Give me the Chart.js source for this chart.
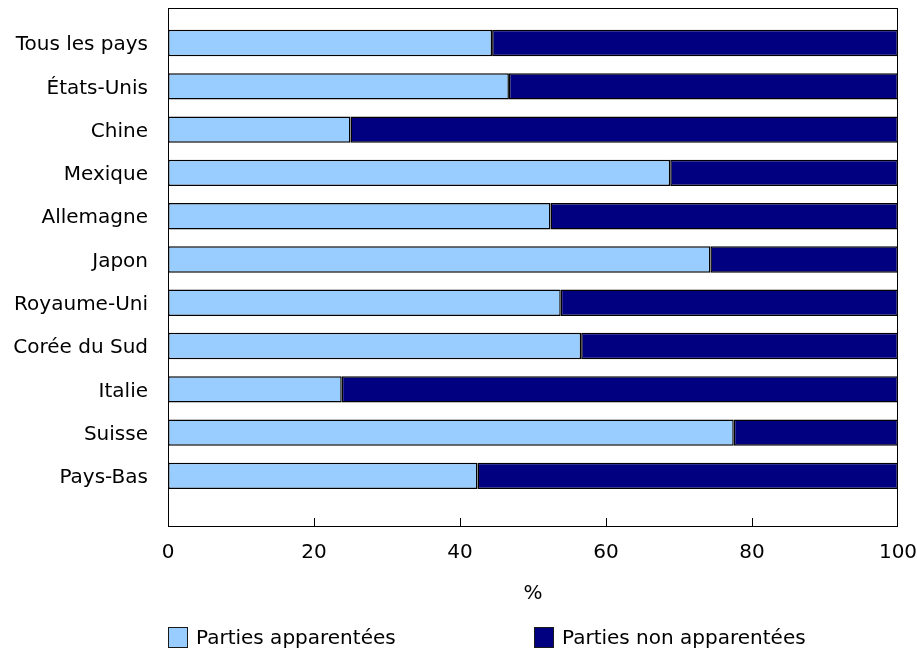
<!DOCTYPE html>
<html><head><meta charset="utf-8">
<script src="https://cdn.jsdelivr.net/npm/chart.js@4/dist/chart.umd.min.js"></script>
<style>
html,body{margin:0;padding:0;background:#fff;}
#wrap{position:relative;width:917px;height:651px;overflow:hidden;}
canvas{display:block;}
.leg{position:absolute;top:626px;height:22px;font-family:"DejaVu Sans",Verdana,sans-serif;font-size:20px;color:#000;display:flex;align-items:center;white-space:nowrap;}
.sw{display:inline-block;width:20px;height:21px;border:1px solid #1a1a1a;margin-right:8px;box-sizing:border-box;}
</style></head>
<body><div id="wrap"><canvas id="c" width="917" height="651"></canvas>
<div class="leg" style="left:168px"><span class="sw" style="background:#99CCFF"></span><span id="l1"></span></div>
<div class="leg" style="left:534px"><span class="sw" style="background:#000080"></span><span id="l2"></span></div>
</div>
<script>
const categories = ['Tous les pays','États-Unis','Chine','Mexique','Allemagne','Japon','Royaume-Uni','Corée du Sud','Italie','Suisse','Pays-Bas'];
const relatedParties = [44.4,46.7,25.0,68.8,52.4,74.3,53.8,56.6,23.8,77.5,42.4];
const unrelatedParties = [55.6,53.3,75.0,31.2,47.6,25.7,46.2,43.4,76.2,22.5,57.6];
const seriesNames = ['Parties apparentées','Parties non apparentées'];
const xTicks = [0,20,40,60,80,100];
const xTitle = '%';

document.getElementById('l1').textContent = seriesNames[0];
document.getElementById('l2').textContent = seriesNames[1];

const FONT = {family:'"DejaVu Sans", Verdana, sans-serif', size:20};

const framePlugin = {
  id:'frame',
  afterDatasetsDraw(chart){
    const {ctx, chartArea:a, scales:{x}} = chart;
    ctx.save();
    ctx.strokeStyle = '#000';
    ctx.lineWidth = 1;
    ctx.strokeRect(Math.round(a.left)+0.5, Math.round(a.top)+0.5, Math.round(a.right-a.left)-1, Math.round(a.bottom-a.top)-1);
    ctx.beginPath();
    xTicks.slice(1,-1).forEach(v=>{
      const px = Math.round(x.getPixelForValue(v))+0.5;
      ctx.moveTo(px, a.bottom);
      ctx.lineTo(px, a.bottom-9);
    });
    ctx.stroke();
    ctx.restore();
  }
};

new Chart(document.getElementById('c'), {
  type:'bar',
  data:{
    datasets:[
      {label:seriesNames[0], data:relatedParties.map((v,i)=>({x:v,y:i})), backgroundColor:'#99CCFF', borderColor:'#000', borderWidth:1.5, borderSkipped:false, categoryPercentage:0.61, barPercentage:1},
      {label:seriesNames[1], data:unrelatedParties.map((v,i)=>({x:v,y:i})), backgroundColor:'#000080', borderColor:'#000', borderWidth:1.5, borderSkipped:false, categoryPercentage:0.61, barPercentage:1}
    ]
  },
  options:{
    indexAxis:'y',
    responsive:false,
    animation:false,
    devicePixelRatio:1,
    layout:{padding:{top:8,right:19,bottom:44,left:0}},
    plugins:{legend:{display:false},tooltip:{enabled:false}},
    scales:{
      x:{
        type:'linear', stacked:true, min:0, max:100, offset:false,
        afterBuildTicks(s){ s.ticks = xTicks.map(v=>({value:v})); },
        ticks:{font:FONT, color:'#000', padding:14, maxRotation:0},
        grid:{display:false, drawTicks:false}, border:{display:false},
        title:{display:true, text:xTitle, font:FONT, color:'#000', padding:{top:0,bottom:1}},
        afterFit(s){ s.height = 80; s.paddingLeft = 0; s.paddingRight = 0; }
      },
      y:{
        type:'linear', stacked:true, reverse:true, min:-0.81, max:11.18, offset:false,
        afterBuildTicks(s){ s.ticks = categories.map((c,i)=>({value:i})); },
        ticks:{font:FONT, color:'#000', padding:20, labelOffset:2, autoSkip:false, callback:(v)=>categories[v]},
        grid:{display:false, drawTicks:false}, border:{display:false},
        afterFit(s){ s.width = 168; s.paddingTop = 0; s.paddingBottom = 0; }
      }
    }
  },
  plugins:[framePlugin]
});
</script>
</body></html>
